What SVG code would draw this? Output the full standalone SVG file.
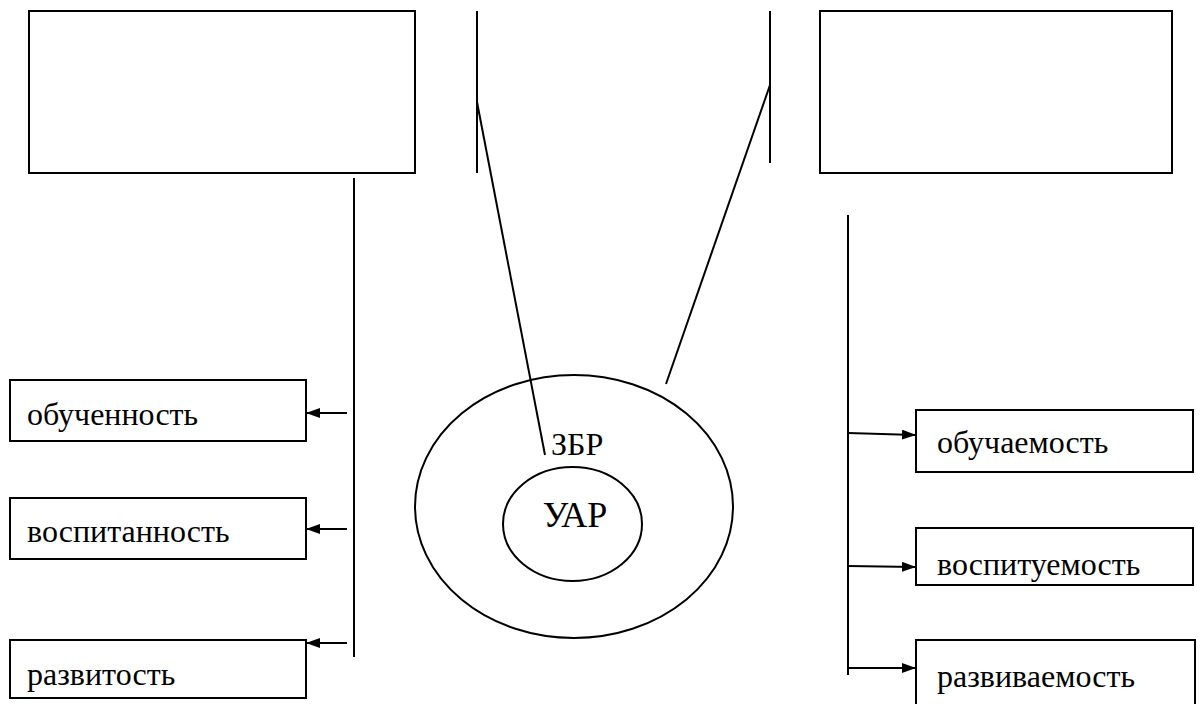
<svg xmlns="http://www.w3.org/2000/svg" width="1203" height="704" viewBox="0 0 1203 704">
<style>
.box{fill:#fff;stroke:#000;stroke-width:2}
.ln{fill:none;stroke:#000;stroke-width:2}
.lbl{font-family:"Liberation Serif","Times New Roman",serif;font-size:32px;fill:#000}
.big{font-family:"Liberation Serif","Times New Roman",serif;font-size:32px;fill:#000}
.big2{font-family:"Liberation Serif","Times New Roman",serif;font-size:36px;fill:#000}
</style>
<defs>
<marker id="ah" markerWidth="14" markerHeight="10" refX="13" refY="5" orient="auto" markerUnits="userSpaceOnUse">
<path d="M0,0 L14,5 L0,10 Z" fill="#000"/>
</marker>
</defs>
<rect width="1203" height="704" fill="#fff"/>
<g id="top-left"><rect class="box" x="29" y="11" width="386" height="162"/></g>
<g id="top-right"><rect class="box" x="820" y="11" width="352" height="162"/></g>
<g id="zbr">
<ellipse class="ln" cx="574" cy="506.5" rx="159" ry="131.5"/>
<text class="big" x="551" y="455">ЗБР</text>
</g>
<g id="uar">
<ellipse class="ln" cx="572.5" cy="524" rx="69.5" ry="57"/>
<text class="big2" x="575" y="527" text-anchor="middle">УАР</text>
</g>
<g id="obuchennost"><rect class="box" x="10" y="380" width="296" height="61"/><text class="lbl" x="27" y="425">обученность</text></g>
<g id="vospitannost"><rect class="box" x="10" y="498" width="296" height="61"/><text class="lbl" x="27" y="542">воспитанность</text></g>
<g id="razvitost"><rect class="box" x="10" y="640" width="296" height="58"/><text class="lbl" x="27" y="685">развитость</text></g>
<g id="obuchaemost"><rect class="box" x="916" y="410" width="277" height="62"/><text class="lbl" x="937" y="453">обучаемость</text></g>
<g id="vospituemost"><rect class="box" x="916" y="528" width="277" height="57"/><text class="lbl" x="937" y="575">воспитуемость</text></g>
<g id="razvivaemost"><rect class="box" x="916" y="640" width="279" height="70"/><text class="lbl" x="937" y="687">развиваемость</text></g>
<g id="connectors">
<line class="ln" x1="477" y1="11" x2="477" y2="173"/>
<line class="ln" x1="477" y1="102" x2="545" y2="455"/>
<line class="ln" x1="770" y1="11" x2="770" y2="163"/>
<line class="ln" x1="770" y1="85" x2="666" y2="384"/>
<line class="ln" x1="354" y1="178" x2="354" y2="657"/>
<line class="ln" x1="848" y1="215" x2="848" y2="675"/>
<line class="ln" x1="347" y1="413" x2="307" y2="413" marker-end="url(#ah)"/>
<line class="ln" x1="347" y1="529" x2="307" y2="529" marker-end="url(#ah)"/>
<line class="ln" x1="347" y1="643" x2="307" y2="643" marker-end="url(#ah)"/>
<line class="ln" x1="848" y1="433" x2="915" y2="435" marker-end="url(#ah)"/>
<line class="ln" x1="848" y1="566" x2="915" y2="567" marker-end="url(#ah)"/>
<line class="ln" x1="848" y1="668" x2="915" y2="668" marker-end="url(#ah)"/>
</g>
</svg>
